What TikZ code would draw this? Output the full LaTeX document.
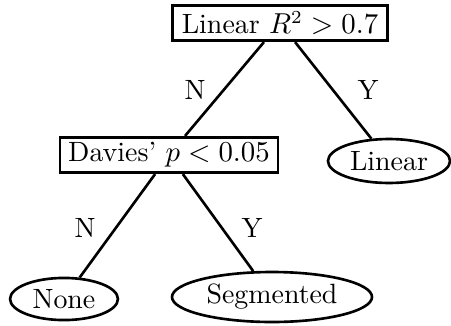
\documentclass[tikz,border=0pt]{standalone}
\usetikzlibrary{shapes.geometric}
\begin{document}
\begin{tikzpicture}[x=0.38pt,y=-0.38pt,
  font=\fontsize{10.6}{12.7}\selectfont,
  box/.style={draw,line width=1pt,rectangle,inner sep=0pt,minimum height=13.5pt},
  oval/.style={draw,line width=1pt,ellipse,inner sep=0pt},
  edge/.style={line width=1pt},
  lbl/.style={inner sep=0pt}]
\useasboundingbox (0,0) rectangle (451,325);
\node[box,minimum width=81.7pt] (top) at (280,23) {Linear $R^2>0.7$};
\node[box,minimum width=82.8pt] (dav) at (169,155) {Davies' $p<0.05$};
\node[oval,minimum width=46.4pt,minimum height=16.7pt] (lin) at (389,161) {Linear};
\node[oval,minimum width=41pt,minimum height=16pt] (none) at (64,299) {None};
\node[oval,minimum width=76pt,minimum height=19pt] (seg) at (272,297) {Segmented};
\draw[edge] (top) -- (dav);
\draw[edge] (top) -- (lin);
\draw[edge] (dav) -- (none);
\draw[edge] (dav) -- (seg);
\node[lbl] (n1) at (195,90) {N};
\node[lbl] (y1) at (368,90) {Y};
\node[lbl] (n2) at (85,228) {N};
\node[lbl] (y2) at (252,228) {Y};
\end{tikzpicture}
\end{document}
